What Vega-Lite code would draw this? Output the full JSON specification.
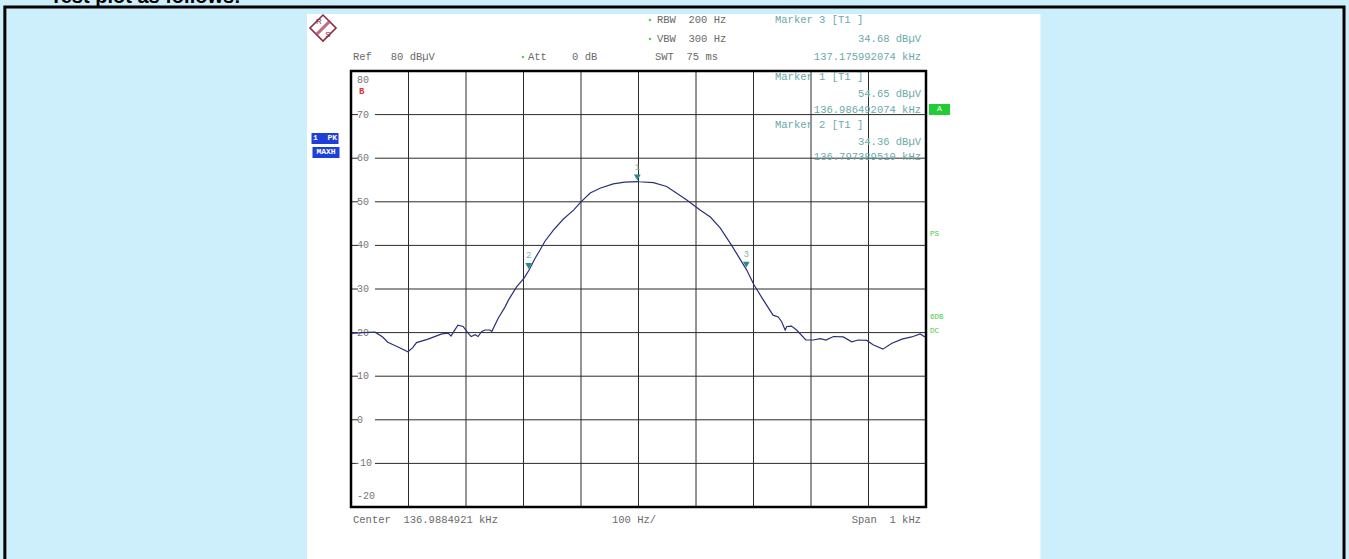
{
  "$schema": "https://vega.github.io/schema/vega-lite/v6.json",
  "width": 575,
  "height": 436,
  "autosize": {"type": "none"},
  "padding": {"left": 351, "top": 71, "right": 423, "bottom": 52},
  "background": "#cdeefb",
  "config": {"view": {"stroke": null}, "text": {"font": "Liberation Mono"}},
  "datasets": {
    "page": [{"x": -576.5, "x2": 699, "y": 93.1, "y2": -34}],
    "outer": [{"x": -1102, "x2": 1227, "y": 94.7, "y2": -34}],
    "box": [{"x": -500, "x2": 500, "y": -20, "y2": 80}],
    "grid": [
      {"x": -400, "x2": -400, "y": -20, "y2": 80},
      {"x": -300, "x2": -300, "y": -20, "y2": 80},
      {"x": -200, "x2": -200, "y": -20, "y2": 80},
      {"x": -100, "x2": -100, "y": -20, "y2": 80},
      {"x": 0, "x2": 0, "y": -20, "y2": 80},
      {"x": 100, "x2": 100, "y": -20, "y2": 80},
      {"x": 200, "x2": 200, "y": -20, "y2": 80},
      {"x": 300, "x2": 300, "y": -20, "y2": 80},
      {"x": 400, "x2": 400, "y": -20, "y2": 80},
      {"x": -500, "x2": 500, "y": 70, "y2": 70},
      {"x": -500, "x2": 500, "y": 60, "y2": 60},
      {"x": -500, "x2": 500, "y": 50, "y2": 50},
      {"x": -500, "x2": 500, "y": 40, "y2": 40},
      {"x": -500, "x2": 500, "y": 30, "y2": 30},
      {"x": -500, "x2": 500, "y": 20, "y2": 20},
      {"x": -500, "x2": 500, "y": 10, "y2": 10},
      {"x": -500, "x2": 500, "y": 0, "y2": 0},
      {"x": -500, "x2": 500, "y": -10, "y2": -10}
    ],
    "ylabbg": [
      {"x": -473, "y": 70}, {"x": -473, "y": 60}, {"x": -473, "y": 50}, {"x": -473, "y": 40},
      {"x": -473, "y": 30}, {"x": -473, "y": 20}, {"x": -473, "y": 10}, {"x": -473, "y": 0},
      {"x": -473, "y": -10}
    ],
    "ylab": [
      {"x": -489.6, "y": 77.94, "t": "80"},
      {"x": -489.6, "y": 70, "t": "70"},
      {"x": -489.6, "y": 60, "t": "60"},
      {"x": -489.6, "y": 50, "t": "50"},
      {"x": -489.6, "y": 40, "t": "40"},
      {"x": -489.6, "y": 30, "t": "30"},
      {"x": -489.6, "y": 20, "t": "20"},
      {"x": -489.6, "y": 10, "t": "10"},
      {"x": -489.6, "y": 0, "t": "0"},
      {"x": -495, "y": -10, "t": "-10"},
      {"x": -489.6, "y": -17.48, "t": "-20"}
    ],
    "trace": [
      {"x": -499, "y": 19.8}, {"x": -480, "y": 20.0}, {"x": -458, "y": 20.1}, {"x": -445, "y": 19.0},
      {"x": -436, "y": 17.8}, {"x": -420, "y": 16.8}, {"x": -401, "y": 15.6}, {"x": -393, "y": 16.5},
      {"x": -386, "y": 17.7}, {"x": -366, "y": 18.5}, {"x": -342, "y": 19.7}, {"x": -331, "y": 19.9},
      {"x": -326, "y": 19.2}, {"x": -320, "y": 20.5}, {"x": -314, "y": 21.7}, {"x": -305, "y": 21.4},
      {"x": -297, "y": 20.0}, {"x": -291, "y": 19.1}, {"x": -284, "y": 19.5}, {"x": -279, "y": 19.1},
      {"x": -273, "y": 20.2}, {"x": -267, "y": 20.6}, {"x": -259, "y": 20.6}, {"x": -255, "y": 20.3},
      {"x": -244, "y": 23.3}, {"x": -232, "y": 25.9}, {"x": -226, "y": 27.5}, {"x": -212, "y": 30.5},
      {"x": -199, "y": 32.5}, {"x": -190, "y": 34.4}, {"x": -180, "y": 37.0}, {"x": -171, "y": 39.0},
      {"x": -163, "y": 40.9}, {"x": -148, "y": 43.5}, {"x": -131, "y": 46.0}, {"x": -113, "y": 48.1},
      {"x": -100, "y": 50.0}, {"x": -84, "y": 52.0}, {"x": -67, "y": 53.1}, {"x": -44, "y": 54.1},
      {"x": -24, "y": 54.5}, {"x": -2, "y": 54.65}, {"x": 1, "y": 54.6}, {"x": 26, "y": 54.4},
      {"x": 49, "y": 53.5}, {"x": 84, "y": 50.4}, {"x": 107, "y": 48.1}, {"x": 125, "y": 46.5},
      {"x": 142, "y": 44.0}, {"x": 162, "y": 40.0}, {"x": 175, "y": 37.2}, {"x": 188, "y": 34.4},
      {"x": 201, "y": 30.9}, {"x": 217, "y": 27.5}, {"x": 234, "y": 24.0}, {"x": 243, "y": 23.6},
      {"x": 249, "y": 22.5}, {"x": 255, "y": 20.6}, {"x": 258, "y": 21.4}, {"x": 266, "y": 21.5},
      {"x": 275, "y": 20.6}, {"x": 291, "y": 18.3}, {"x": 304, "y": 18.3}, {"x": 316, "y": 18.6},
      {"x": 326, "y": 18.3}, {"x": 339, "y": 19.1}, {"x": 356, "y": 19.0}, {"x": 371, "y": 17.9},
      {"x": 382, "y": 18.3}, {"x": 397, "y": 18.2}, {"x": 408, "y": 17.2}, {"x": 425, "y": 16.2},
      {"x": 440, "y": 17.5}, {"x": 458, "y": 18.5}, {"x": 475, "y": 19.0}, {"x": 490, "y": 19.7},
      {"x": 498, "y": 19.0}
    ],
    "markers": [
      {"x": -191.1, "y": 34.36, "t": "2"},
      {"x": -2.0, "y": 54.65, "t": "1"},
      {"x": 187.5, "y": 34.68, "t": "3"}
    ],
    "grayLeft": [
      {"x": -496.5, "y": 83.21, "t": "Ref\u00a0\u00a0\u00a080\u00a0dBµV"},
      {"x": -192.2, "y": 83.21, "t": "Att\u00a0\u00a0\u00a0\u00a00\u00a0dB"},
      {"x": 32.2, "y": 91.7, "t": "RBW\u00a0\u00a0200\u00a0Hz"},
      {"x": 32.2, "y": 87.34, "t": "VBW\u00a0\u00a0300\u00a0Hz"},
      {"x": 28.7, "y": 83.21, "t": "SWT\u00a0\u00a075\u00a0ms"},
      {"x": -496.5, "y": -22.98, "t": "Center\u00a0\u00a0136.9884921\u00a0kHz"},
      {"x": -46.1, "y": -22.98, "t": "100\u00a0Hz/"}
    ],
    "grayRight": [
      {"x": 491.3, "y": -22.98, "t": "Span\u00a0\u00a01\u00a0kHz"}
    ],
    "tealLeft": [
      {"x": 237.4, "y": 91.7, "t": "Marker\u00a03\u00a0[T1\u00a0]"},
      {"x": 237.4, "y": 78.62, "t": "Marker\u00a01\u00a0[T1\u00a0]"},
      {"x": 237.4, "y": 67.61, "t": "Marker\u00a02\u00a0[T1\u00a0]"}
    ],
    "tealRight": [
      {"x": 491.3, "y": 87.34, "t": "34.68\u00a0dBµV"},
      {"x": 491.3, "y": 83.21, "t": "137.175992074\u00a0kHz"},
      {"x": 491.3, "y": 74.72, "t": "54.65\u00a0dBµV"},
      {"x": 491.3, "y": 71.06, "t": "136.986492074\u00a0kHz"},
      {"x": 491.3, "y": 63.72, "t": "34.36\u00a0dBµV"},
      {"x": 491.3, "y": 60.28, "t": "136.797389510\u00a0kHz"}
    ],
    "greenDots": [
      {"x": 20, "y": 91.7}, {"x": 20, "y": 87.34}, {"x": -201, "y": 83.21}
    ],
    "greenText": [
      {"x": 507, "y": 42.61, "t": "PS"},
      {"x": 507, "y": 23.58, "t": "6DB"},
      {"x": 507, "y": 20.37, "t": "DC"}
    ],
    "blueBoxes": [
      {"x": -545.2, "y": 64.52, "t": "1\u00a0\u00a0PK"},
      {"x": -543.5, "y": 61.31, "t": "MAXH"}
    ],
    "greenBox": [{"x": 523.5, "y": 71.17, "t": "A"}],
    "redB": [{"x": -486.1, "y": 75.41, "t": "B"}],
    "logo": [{"x": -548.7, "y": 89.86}],
    "logoR": [{"x": -556, "y": 91.2, "t": "R"}],
    "logoS": [{"x": -540, "y": 88.3, "t": "S"}],
    "heading": [{"x": -1023.5, "y": 95.6, "t": "Test plot as follows:"}]
  },
  "encoding": {
    "x": {"field": "x", "type": "quantitative", "scale": {"domain": [-500, 500], "nice": false, "zero": false}, "axis": null},
    "y": {"field": "y", "type": "quantitative", "scale": {"domain": [-20, 80], "nice": false, "zero": false}, "axis": null}
  },
  "layer": [
    {
      "data": {"name": "page"},
      "mark": {"type": "rect", "fill": "white", "strokeWidth": 0},
      "encoding": {"x2": {"field": "x2"}, "y2": {"field": "y2"}}
    },
    {
      "data": {"name": "outer"},
      "mark": {"type": "rect", "fillOpacity": 0, "stroke": "black", "strokeWidth": 3},
      "encoding": {"x2": {"field": "x2"}, "y2": {"field": "y2"}}
    },
    {
      "data": {"name": "heading"},
      "mark": {"type": "text", "font": "Liberation Sans", "fontSize": 20, "fontWeight": "bold", "color": "black", "align": "left", "baseline": "alphabetic"},
      "encoding": {"text": {"field": "t"}}
    },
    {
      "data": {"name": "grid"},
      "mark": {"type": "rule", "color": "#2a2a2a", "strokeWidth": 1},
      "encoding": {"x2": {"field": "x2"}, "y2": {"field": "y2"}}
    },
    {
      "data": {"name": "ylabbg"},
      "mark": {"type": "point", "shape": "M-1,-0.5H1V0.5H-1Z", "filled": true, "fill": "white", "color": "white", "opacity": 1, "strokeWidth": 0, "size": 289}
    },
    {
      "data": {"name": "box"},
      "mark": {"type": "rect", "fillOpacity": 0, "stroke": "black", "strokeWidth": 2.5},
      "encoding": {"x2": {"field": "x2"}, "y2": {"field": "y2"}}
    },
    {
      "data": {"name": "ylab"},
      "mark": {"type": "text", "fontSize": 10, "color": "#777777", "align": "left", "baseline": "middle"},
      "encoding": {"text": {"field": "t"}}
    },
    {
      "data": {"name": "trace"},
      "mark": {"type": "line", "color": "#2b3078", "strokeWidth": 1.2},
      "encoding": {"order": {"field": "x"}}
    },
    {
      "data": {"name": "markers"},
      "mark": {"type": "point", "shape": "triangle-down", "filled": true, "color": "#2a8a8a", "opacity": 1, "size": 45, "yOffset": -4}
    },
    {
      "data": {"name": "markers"},
      "mark": {"type": "text", "fontSize": 9, "color": "#78b8b8", "yOffset": -15},
      "encoding": {"text": {"field": "t"}}
    },
    {
      "data": {"name": "grayLeft"},
      "mark": {"type": "text", "fontSize": 10.5, "color": "#6a6a6a", "align": "left", "baseline": "middle"},
      "encoding": {"text": {"field": "t"}}
    },
    {
      "data": {"name": "grayRight"},
      "mark": {"type": "text", "fontSize": 10.5, "color": "#6a6a6a", "align": "right", "baseline": "middle"},
      "encoding": {"text": {"field": "t"}}
    },
    {
      "data": {"name": "tealLeft"},
      "mark": {"type": "text", "fontSize": 10.5, "color": "#6aa9a9", "align": "left", "baseline": "middle"},
      "encoding": {"text": {"field": "t"}}
    },
    {
      "data": {"name": "tealRight"},
      "mark": {"type": "text", "fontSize": 10.5, "color": "#6aa9a9", "align": "right", "baseline": "middle"},
      "encoding": {"text": {"field": "t"}}
    },
    {
      "data": {"name": "greenDots"},
      "mark": {"type": "point", "shape": "circle", "filled": true, "color": "#55cc55", "opacity": 1, "size": 6}
    },
    {
      "data": {"name": "greenText"},
      "mark": {"type": "text", "fontSize": 7.5, "color": "#44cc44", "align": "left", "baseline": "middle"},
      "encoding": {"text": {"field": "t"}}
    },
    {
      "data": {"name": "blueBoxes"},
      "mark": {"type": "rect", "fill": "#1e3fd8", "strokeWidth": 0, "width": 27, "height": 11}
    },
    {
      "data": {"name": "blueBoxes"},
      "mark": {"type": "text", "fontSize": 8, "fontWeight": "bold", "color": "white", "align": "center", "baseline": "middle"},
      "encoding": {"text": {"field": "t"}}
    },
    {
      "data": {"name": "greenBox"},
      "mark": {"type": "rect", "fill": "#22cc33", "strokeWidth": 0, "width": 21, "height": 11}
    },
    {
      "data": {"name": "greenBox"},
      "mark": {"type": "text", "fontSize": 8, "color": "white", "align": "center", "baseline": "middle"},
      "encoding": {"text": {"field": "t"}}
    },
    {
      "data": {"name": "redB"},
      "mark": {"type": "text", "fontSize": 9, "fontWeight": "bold", "color": "#dd3333", "align": "left", "baseline": "middle"},
      "encoding": {"text": {"field": "t"}}
    },
    {
      "data": {"name": "logo"},
      "mark": {"type": "point", "shape": "diamond", "filled": false, "stroke": "#8b2942", "strokeWidth": 1.6, "opacity": 1, "size": 676}
    },
    {
      "data": {"name": "logo"},
      "mark": {"type": "point", "shape": "M-0.55,0.55L0.55,-0.55", "filled": false, "stroke": "#b04a60", "strokeWidth": 3, "opacity": 0.8, "size": 676}
    },
    {
      "data": {"name": "logoR"},
      "mark": {"type": "text", "font": "Liberation Sans", "fontSize": 8, "color": "#8b2942", "align": "center", "baseline": "middle"},
      "encoding": {"text": {"field": "t"}}
    },
    {
      "data": {"name": "logoS"},
      "mark": {"type": "text", "font": "Liberation Sans", "fontSize": 8, "color": "#8b2942", "align": "center", "baseline": "middle"},
      "encoding": {"text": {"field": "t"}}
    }
  ]
}
